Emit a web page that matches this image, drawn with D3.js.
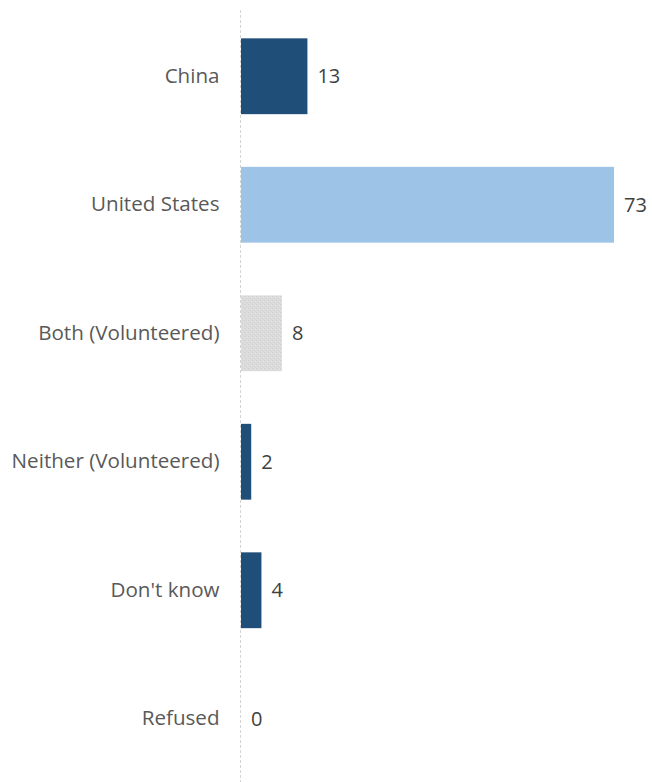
<!DOCTYPE html>
<html>
<head>
<meta charset="utf-8">
<script src="https://cdn.jsdelivr.net/npm/d3@7"></script>
<style>
  html, body { margin: 0; padding: 0; background: #ffffff; }
  svg { display: block; }
</style>
</head>
<body>
<svg id="chart" width="652" height="782"></svg>
<script>
// Survey responses (percent)
const categories = ["China", "United States", "Both (Volunteered)", "Neither (Volunteered)", "Don't know", "Refused"];
const values = [13, 73, 8, 2, 4, 0];
const fills = ["#1f4e79", "#9dc3e6", "url(#speckle)", "#1f4e79", "#1f4e79", "#1f4e79"];

const svg = d3.select("#chart");
const W = 652, H = 782;
const FONT = "'Open Sans', 'Noto Sans', sans-serif";

// Speckled grey fill for the "Both" bar
const defs = svg.append("defs");
const pat = defs.append("pattern")
  .attr("id", "speckle")
  .attr("patternUnits", "userSpaceOnUse")
  .attr("width", 4).attr("height", 4);
pat.append("rect").attr("width", 4).attr("height", 4).attr("fill", "#dcdcdc");
pat.append("rect").attr("x", 0).attr("y", 0).attr("width", 1).attr("height", 1).attr("fill", "#cdcdcd");
pat.append("rect").attr("x", 2).attr("y", 2).attr("width", 1).attr("height", 1).attr("fill", "#d2d2d2");
pat.append("rect").attr("x", 3).attr("y", 1).attr("width", 1).attr("height", 1).attr("fill", "#e4e4e4");

const x = d3.scaleLinear().domain([0, d3.max(values)]).range([241, 614]);
const y = d3.scaleBand().domain(categories).range([12, 783]).paddingInner(0.41).paddingOuter(0.205);

const data = categories.map((c, i) => ({ c, v: values[i], f: fills[i] }));

// Bars
svg.append("g").selectAll("rect")
  .data(data)
  .join("rect")
  .attr("x", x(0))
  .attr("y", d => y(d.c))
  .attr("width", d => x(d.v) - x(0))
  .attr("height", y.bandwidth())
  .attr("fill", d => d.f);

// Vertical category axis (dashed)
svg.append("line")
  .attr("x1", x(0) - 0.5).attr("x2", x(0) - 0.5)
  .attr("y1", 10).attr("y2", H)
  .attr("stroke", "#d4d4d4")
  .attr("stroke-width", 1)
  .attr("stroke-dasharray", "3,2");

// Category labels
const yAxis = d3.axisLeft(y).tickSize(0).tickPadding(21);
const ga = svg.append("g").attr("transform", `translate(${x(0) - 0.5},0)`).call(yAxis);
ga.select(".domain").remove();
ga.selectAll("text")
  .attr("font-family", FONT)
  .attr("font-size", 20.6)
  .attr("fill", "#595959");

// Value labels
svg.append("g").selectAll("text")
  .data(data)
  .join("text")
  .attr("x", d => x(d.v) + 10)
  .attr("y", d => y(d.c) + y.bandwidth() / 2)
  .attr("dy", "0.35em")
  .attr("font-family", FONT)
  .attr("font-size", 20)
  .attr("fill", "#404040")
  .text(d => d.v);
</script>
</body>
</html>
